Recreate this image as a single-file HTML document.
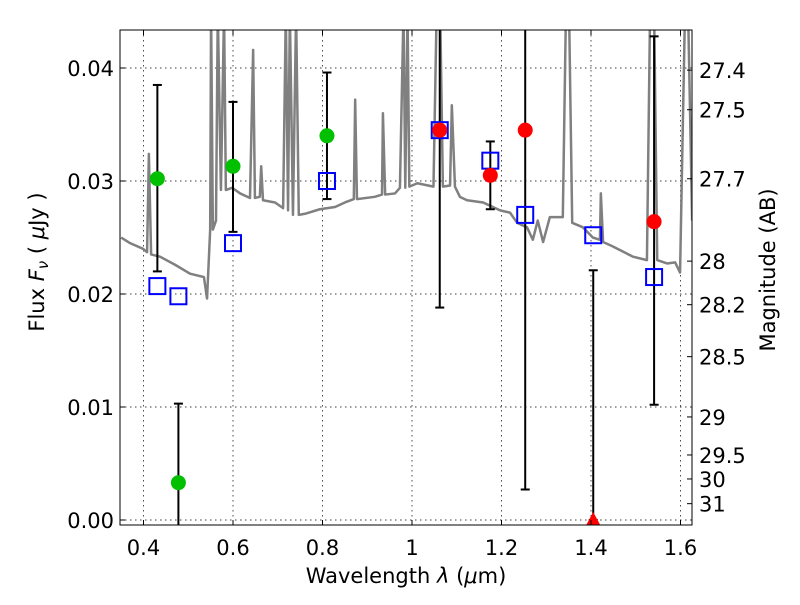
<!DOCTYPE html>
<html><head><meta charset="utf-8"><style>
body{margin:0;background:#fff;}
svg text{font-family:"DejaVu Sans","Liberation Sans",sans-serif;}
</style></head><body>
<svg id="chart" width="800" height="600" xmlns="http://www.w3.org/2000/svg">
<defs><clipPath id="pc"><rect x="120" y="30" width="572" height="495"/></clipPath></defs>
<g id="grid"></g>
<g id="spec" clip-path="url(#pc)"></g>
<g id="marks" clip-path="url(#pc)"></g>
<rect x="120" y="30" width="572" height="495" fill="none" stroke="#000" stroke-width="1"/>
<g id="axes"></g>
<text x="406" y="583" text-anchor="middle" font-size="21">Wavelength  <tspan font-style="italic">λ</tspan> (<tspan font-style="italic">μ</tspan>m)</text>
<text transform="translate(44,262) rotate(-90)" text-anchor="middle" font-size="21">Flux  <tspan font-style="italic">F</tspan><tspan font-style="italic" font-size="15" dy="4">ν</tspan><tspan dy="-4">  ( </tspan><tspan font-style="italic">μ</tspan>Jy )</text>
<text transform="translate(775,270) rotate(-90)" text-anchor="middle" font-size="21">Magnitude (AB)</text>
</svg>
<script>
const specLam=[0.35,0.370,0.399,0.408,0.412,0.417,0.437,0.470,0.504,0.535,0.542,0.549,0.551,0.555,0.562,0.566,0.573,0.580,0.584,0.598,0.616,0.638,0.645,0.649,0.660,0.663,0.667,0.694,0.712,0.718,0.723,0.727,0.734,0.741,0.747,0.761,0.794,0.828,0.850,0.870,0.873,0.877,0.917,0.933,0.935,0.940,0.962,0.973,0.981,0.985,0.990,0.994,1.012,1.048,1.055,1.063,1.069,1.085,1.089,1.096,1.107,1.123,1.159,1.197,1.219,1.235,1.257,1.270,1.281,1.293,1.308,1.337,1.344,1.351,1.358,1.382,1.404,1.420,1.422,1.427,1.449,1.494,1.525,1.532,1.541,1.548,1.570,1.588,1.599,1.610,1.617,1.626];
const specFlux=[0.0250,0.0245,0.0240,0.0237,0.0324,0.0235,0.0233,0.0226,0.0218,0.0215,0.0196,0.0257,0.045,0.0257,0.0265,0.045,0.0292,0.045,0.0292,0.0294,0.0289,0.0285,0.0416,0.0285,0.0286,0.0313,0.0283,0.0281,0.0276,0.045,0.0274,0.045,0.0270,0.045,0.0270,0.0271,0.0275,0.0277,0.0281,0.0284,0.0372,0.0284,0.0286,0.0288,0.0360,0.0288,0.0289,0.0294,0.045,0.0294,0.045,0.0295,0.0298,0.0295,0.045,0.045,0.0295,0.0296,0.0367,0.0295,0.0286,0.0283,0.0281,0.0274,0.0272,0.0263,0.0259,0.0248,0.0265,0.0246,0.0268,0.0268,0.045,0.045,0.0263,0.0259,0.0250,0.0248,0.0289,0.0246,0.0242,0.0233,0.0230,0.045,0.045,0.0230,0.0227,0.0228,0.0219,0.045,0.045,0.0265];
const greenLam=[0.431,0.478,0.600,0.810];
const greenFlux=[0.0302,0.0033,0.0313,0.0340];
const greenLo=[0.0220,-0.01,0.0255,0.0284];
const greenHi=[0.0385,0.0103,0.0370,0.0396];
const redLam=[1.062,1.175,1.253,1.541];
const redFlux=[0.0345,0.0305,0.0345,0.0264];
const redLo=[0.0188,0.0275,0.0027,0.0102];
const redHi=[0.06,0.0335,0.06,0.0428];
const limLam=[1.405];
const limFlux=[0.0];
const limHi=[0.0221];
const modelLam=[0.431,0.478,0.600,0.810,1.062,1.175,1.253,1.405,1.541];
const modelFlux=[0.0207,0.0198,0.0245,0.0300,0.0345,0.0318,0.0270,0.0252,0.0215];
const xTicks=[0.4,0.6,0.8,1.0,1.2,1.4,1.6];
const xTickLabels=["0.4","0.6","0.8","1","1.2","1.4","1.6"];
const yTicks=[0,0.01,0.02,0.03,0.04];
const yTickLabels=["0.00","0.01","0.02","0.03","0.04"];
const magTicks=[27.4,27.5,27.7,28,28.2,28.5,29,29.5,30,31];
const magLabels=["27.4","27.5","27.7","28","28.2","28.5","29","29.5","30","31"];

const NS="http://www.w3.org/2000/svg";
const X=l=>143.5+(l-0.4)*447.5;
const Y=f=>520-f*11300;
function mk(tag,attrs,parent){const e=document.createElementNS(NS,tag);for(const k in attrs)e.setAttribute(k,attrs[k]);parent.appendChild(e);return e;}
const grid=document.getElementById('grid'),axes=document.getElementById('axes'),spec=document.getElementById('spec'),marks=document.getElementById('marks');

xTicks.forEach((t,i)=>{
  const g=mk('line',{x1:X(t),x2:X(t),y1:30,y2:525,stroke:'#000','stroke-width':0.7,'stroke-dasharray':'1.5,3.5'},grid);
  
  
  mk('line',{x1:X(t),x2:X(t),y1:525,y2:520,stroke:'#000'},axes);
  mk('line',{x1:X(t),x2:X(t),y1:30,y2:35,stroke:'#000'},axes);
  const tx=mk('text',{x:X(t),y:555,'text-anchor':'middle','font-size':21},axes);
  tx.textContent=xTickLabels[i];
  
  
});
yTicks.forEach((t,i)=>{
  const g=mk('line',{x1:120,x2:692,y1:Y(t),y2:Y(t),stroke:'#000','stroke-width':0.7,'stroke-dasharray':'1.5,3.5'},grid);
  
  
  mk('line',{x1:120,x2:125,y1:Y(t),y2:Y(t),stroke:'#000'},axes);
  const tx=mk('text',{x:114,y:Y(t)+8,'text-anchor':'end','font-size':21},axes);
  tx.textContent=yTickLabels[i];
  
  
});
magTicks.forEach((m,i)=>{
  const f=Math.pow(10,(23.9-m)/2.5);
  mk('line',{x1:687,x2:692,y1:Y(f),y2:Y(f),stroke:'#000'},axes);
  const tx=mk('text',{x:699,y:Y(f)+8,'font-size':21},axes);
  tx.textContent=magLabels[i];
  
  
});

const sp=mk('polyline',{points:specLam.map((l,i)=>X(l)+','+Y(specFlux[i])).join(' '),fill:'none',stroke:'#808080','stroke-width':2.5,'stroke-linejoin':'round'},spec);



function errbar(l,lo,hi){
  const e=mk('line',{x1:X(l),x2:X(l),y1:Y(lo),y2:Y(hi),stroke:'#000','stroke-width':2},marks);
  
  
  [lo,hi].forEach(v=>mk('line',{x1:X(l)-4.5,x2:X(l)+4.5,y1:Y(v),y2:Y(v),stroke:'#000','stroke-width':2},marks));
}
greenLam.forEach((l,i)=>errbar(l,greenLo[i],greenHi[i]));
redLam.forEach((l,i)=>errbar(l,redLo[i],redHi[i]));
limLam.forEach((l,i)=>errbar(l,limFlux[i],limHi[i]));
modelLam.forEach((l,i)=>{
  const r=mk('rect',{x:X(l)-8,y:Y(modelFlux[i])-8,width:16,height:16,fill:'none',stroke:'#0000ff','stroke-width':2},marks);
  
  
});
greenLam.forEach((l,i)=>{
  const c=mk('circle',{cx:X(l),cy:Y(greenFlux[i]),r:7.5,fill:'#00c000'},marks);
  
  
});
redLam.forEach((l,i)=>{
  const c=mk('circle',{cx:X(l),cy:Y(redFlux[i]),r:7.5,fill:'#ff0000'},marks);
  
  
});
limLam.forEach((l,i)=>{
  const x=X(l),y=Y(limFlux[i]);
  const t=mk('polygon',{points:`${x},${y-8} ${x-7},${y+5} ${x+7},${y+5}`,fill:'#ff0000'},marks);
  
  
});
</script>
</body></html>
